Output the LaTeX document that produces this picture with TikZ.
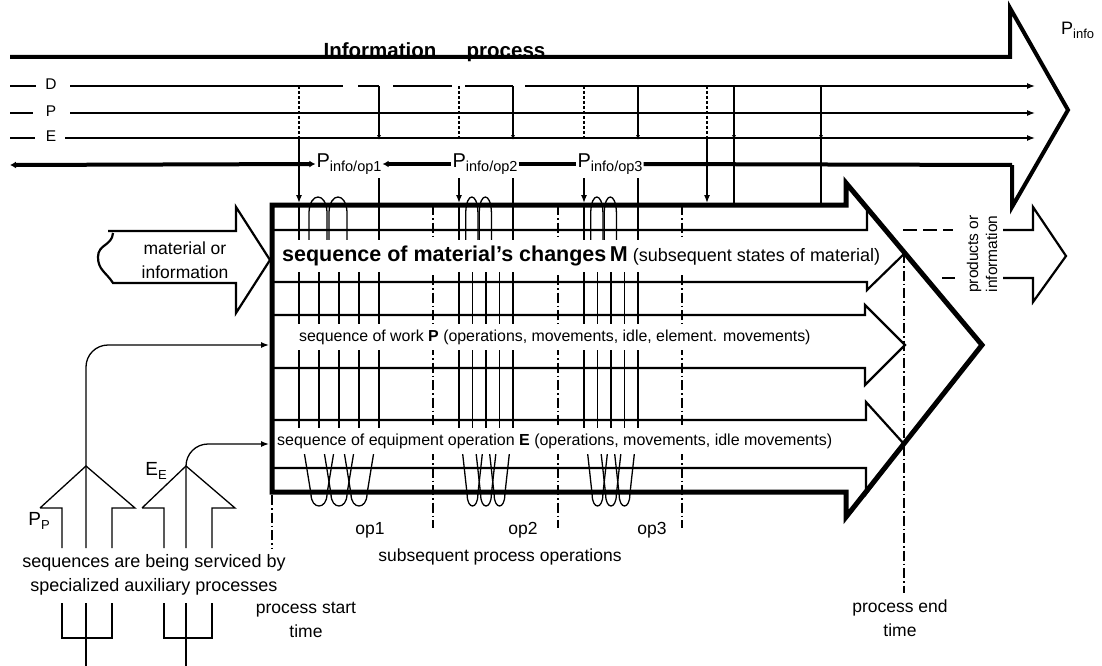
\documentclass[tikz,border=0pt]{standalone}
\usepackage{fontspec}
\setmainfont{Liberation Sans}
\usetikzlibrary{arrows.meta}
\tikzset{
  heavy/.style={line width=5pt, line join=miter},
  broad/.style={line width=4pt, line join=miter},
  outl/.style={line width=2.2pt, line join=miter},
  thin/.style={line width=1.3pt},
  tip/.style={-{Latex[length=8pt,width=6pt]}},
  smalltip/.style={-{Latex[length=5pt,width=4pt]}},
  dashdot/.style={line width=1.2pt, dash pattern=on 10pt off 3pt on 1.5pt off 3pt},
  lbl/.style={font=\fontsize{17.5}{24}\selectfont, inner sep=1pt},
  small/.style={font=\fontsize{15.5}{19}\selectfont, inner sep=1pt},
  bandtext/.style={fill=white, anchor=west, inner xsep=2pt, inner ysep=6pt},
}
\begin{document}
\begin{tikzpicture}[x=1pt, y=-1pt]
\useasboundingbox (0,0) rectangle (1102,666);

% information process arrow
\draw[broad] (10,57) -- (1010,57) -- (1010,8) -- (1068,110) -- (1012,207) -- (1012,165);
\node[font=\bfseries\fontsize{20.5}{24}\selectfont, anchor=base, inner sep=0pt] (infotxt) at (380,58) {Information};
\node[font=\bfseries\fontsize{20.5}{24}\selectfont, anchor=base, inner sep=0pt] (proctxt) at (506,58) {process};
\node[lbl, anchor=west, font=\fontsize{18}{20}\selectfont] (pinfo) at (1060,30) {P\raisebox{-4pt}{\fontsize{13}{13}\selectfont info}};

\node[lbl, font=\fontsize{20}{22}\selectfont] (pinfo1) at (349,164) {P\raisebox{-4pt}{\fontsize{14.5}{14}\selectfont info/op1}};
\node[lbl, font=\fontsize{20}{22}\selectfont] (pinfo2) at (485,164) {P\raisebox{-4pt}{\fontsize{14.5}{14}\selectfont info/op2}};
\node[lbl, font=\fontsize{20}{22}\selectfont] (pinfo3) at (610,164) {P\raisebox{-4pt}{\fontsize{14.5}{14}\selectfont info/op3}};
\coordinate (infol) at (10,165);
\coordinate (infor) at (1012,165);
\draw[broad, {Latex[length=6pt,width=7pt]}-{Latex[length=6pt,width=7pt]}] (infol) -- (pinfo1.west);
\draw[broad, {Latex[length=6pt,width=7pt]}-] (pinfo1.east) -- (pinfo2.west);
\draw[broad] (pinfo2.east) -- (pinfo3.west);
\draw[broad] (pinfo3.east) -- (infor);

% D, P, E information lines
\node[small] (dlbl) at (51,84) {D};
\node[small] (plbl) at (51,111) {P};
\node[small] (elbl) at (51,136) {E};
\draw[thin] (10,86) -- (36,86);
\draw[thin] (10,113) -- (33,113);
\draw[thin] (10,138) -- (35,138);
\draw[thin] (70,86) -- (343,86) (358,86) -- (379,86) (393,86) -- (452,86) (465,86) -- (513,86);
\draw[thin, tip] (525,86) -- (1035,86);
\draw[thin, tip] (70,113) -- (1035,113);
\draw[thin, tip] (65,138) -- (1035,138);
\foreach \x in {299,459,584,707} \draw[thin, densely dashed] (\x,86) -- (\x,138);
\foreach \x in {379,513,638,734,821} \draw[thin, smalltip] (\x,86) -- (\x,140);
\draw[thin, tip] (299,138) -- (299,203);
\draw[thin, tip] (459,178) -- (459,203);
\draw[thin, tip] (584,178) -- (584,203);
\draw[thin, tip] (707,138) -- (707,203);
\draw[thin] (734,138) -- (734,203);
\draw[thin] (821,138) -- (821,203);

% material input arrow
\draw[outl] (108,231) -- (236,231) -- (236,207) -- (270,260) -- (236,313) -- (236,283) -- (113,283)
  .. controls (106,272) and (98,270) .. (98,257) .. controls (98,244) and (112,246) .. (113,233);
\node[lbl, align=center] (matin) at (185,260) {material or\\information};

% process sequences
\draw[outl] (272,230) -- (867,230) -- (867,207) -- (905,253) -- (867,290) -- (867,282) -- (272,282);
\draw[outl] (272,315) -- (865,315) -- (865,305) -- (905,345) -- (865,385) -- (865,368) -- (272,368);
\draw[outl] (272,420) -- (866,420) -- (866,402) -- (904,444) -- (866,494) -- (866,468) -- (272,468);

% operations: coils round the process
\foreach \x in {433,558,682} \draw[dashdot] (\x,205) -- (\x,528);
\foreach \a/\w in {299/20, 459/13.5, 584/13.5}{
  \draw[thin] (\a,205) -- (\a,445);
  \draw[thin] ({\a+4*\w},178) -- ({\a+4*\w},445);
  \foreach \i in {1,2,3} \draw[thin] ({\a+\i*\w},240) -- ({\a+\i*\w},445);
  \foreach \k in {0,1} \draw[thin] ({\a+(\k+0.5)*\w},240) -- ({\a+(\k+0.5)*\w},212)
    .. controls ({\a+(\k+0.55)*\w},192) and ({\a+(\k+1.35)*\w},192) .. ({\a+(\k+1.4)*\w},212) -- ({\a+(\k+1.4)*\w},240);
  \foreach \k in {0,1,2} \draw[thin] ({\a+(\k+0.2)*\w},445) -- ({\a+(\k+0.6)*\w},494)
    .. controls ({\a+(\k+0.6)*\w},510) and ({\a+(\k+1.4)*\w},510) .. ({\a+(\k+1.4)*\w},494) -- ({\a+(\k+1.8)*\w},445);
}

% main process arrow
\draw[heavy] (272,205) -- (846,205) -- (846,183) -- (982,345) -- (846,517) -- (846,492) -- (272,492) -- cycle;

\node[bandtext, font=\fontsize{18}{20}\selectfont] (mseq) at (280,256)
  {{\bfseries\fontsize{21.5}{22}\selectfont sequence of material's changes\,M} (subsequent states of material)};
\node[bandtext, font=\fontsize{15.9}{18}\selectfont] (pseq) at (297,337)
  {sequence of work {\bfseries P} (operations, movements, idle, element. movements)};
\node[bandtext, font=\fontsize{16}{18}\selectfont] (eseq) at (275,441)
  {sequence of equipment operation {\bfseries E} (operations, movements, idle movements)};

% products
\draw[outl, dashed, dash pattern=on 14pt off 6pt] (903,230) -- (953,230);
\draw[outl] (1003,230) -- (1033,230) -- (1033,207) -- (1066,256) -- (1033,302) -- (1033,278) -- (1003,278);
\draw[outl] (942,278) -- (955,278);
\node[small, rotate=90, align=center] (prod) at (982,254) {products or\\information};

% auxiliary processes
\coordinate (workin) at (269,345);
\coordinate (equipin) at (269,444);
\draw[thin, line join=miter] (40,508) -- (62,508) -- (62,548) (40,508) -- (86,466) -- (135,508) -- (112,508) -- (112,548);
\draw[thin] (62,603) -- (62,638) -- (112,638) -- (112,603);
\draw[thin, line join=miter] (142,508) -- (164,508) -- (164,548) (142,508) -- (186,466) -- (235,508) -- (212,508) -- (212,548);
\draw[thin] (164,603) -- (164,638) -- (212,638) -- (212,603);
\draw[thin, tip, rounded corners=22pt] (86,548) -- (86,345) -- (workin);
\draw[thin, tip, rounded corners=22pt] (186,548) -- (186,444) -- (equipin);
\draw[thin] (86,603) -- (86,666);
\draw[thin] (186,603) -- (186,666);
\node[lbl, font=\fontsize{19}{20}\selectfont] (pp) at (39,521) {P\raisebox{-4pt}{\fontsize{13}{13}\selectfont P}};
\node[lbl, font=\fontsize{19}{20}\selectfont] (ee) at (156,471) {E\raisebox{-4pt}{\fontsize{13}{13}\selectfont E}};
\node[lbl, align=center, font=\fontsize{18}{24.5}\selectfont] (serv) at (154,575) {sequences are being serviced by\\specialized auxiliary processes};

% time marks
\draw[dashdot] (272,495) -- (272,548);
\draw[dashdot] (904,253) -- (904,593);
\node[lbl, align=center] (tstart) at (306,620) {process start\\time};
\node[lbl, align=center] (tend) at (900,618) {process end\\time};
\node[lbl] (op1) at (370,530) {op1};
\node[lbl] (op2) at (523,530) {op2};
\node[lbl] (op3) at (652,530) {op3};
\node[lbl] (subs) at (500,557) {subsequent process operations};
\end{tikzpicture}
\end{document}
